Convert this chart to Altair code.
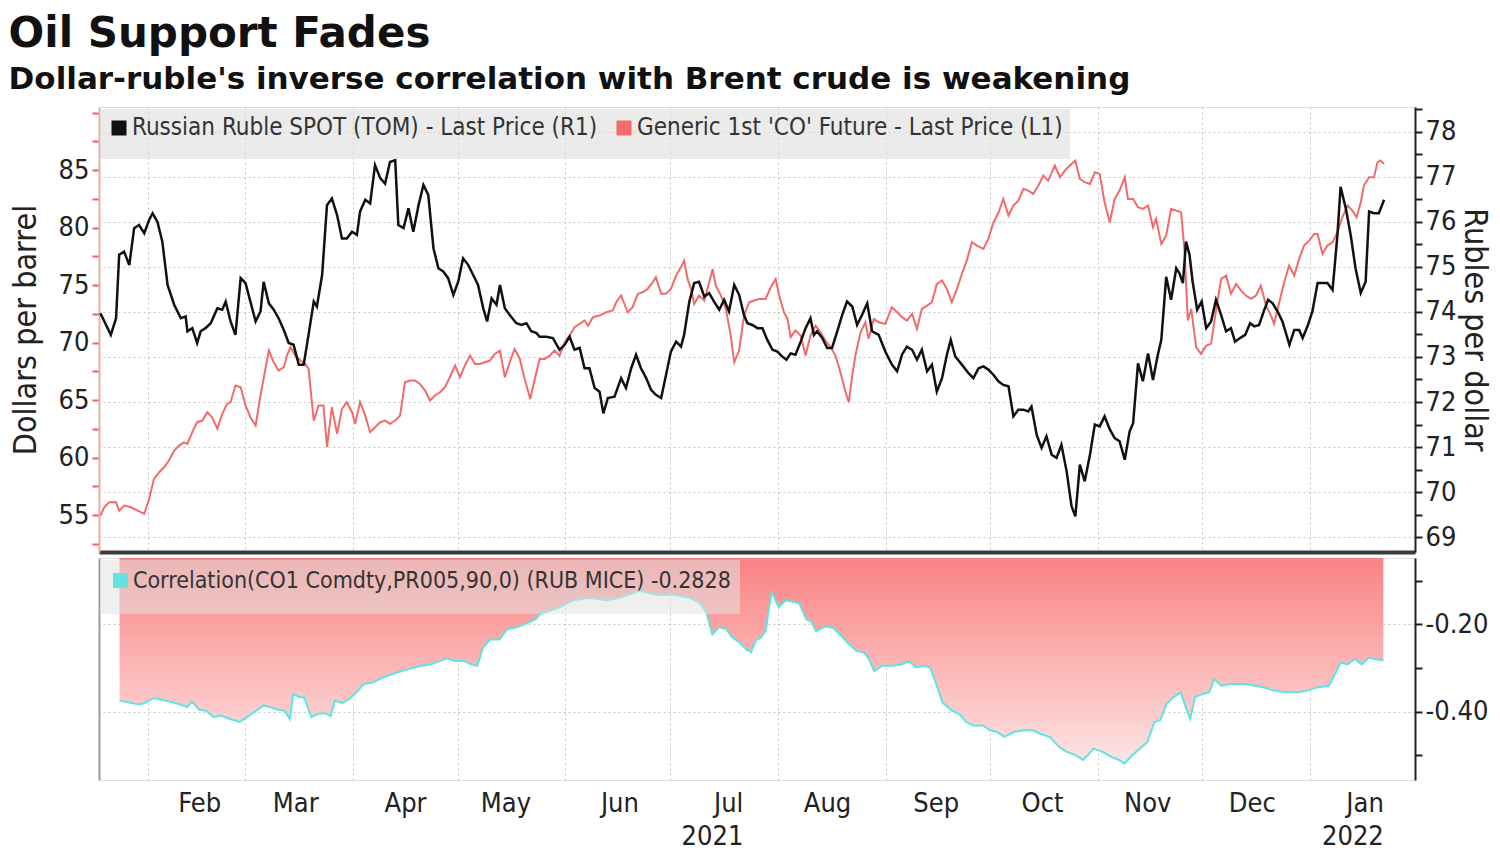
import altair as alt
import pandas as pd

# ---------------- data (x = days since 2021-01-01) -------------
ruble_day = [17.4, 20.4, 21.9, 22.8, 24.2, 25.7, 27.1, 28.5, 30.0, 31.4, 32.4, 33.8, 35.2, 36.7, 38.6, 40.5, 41.9, 42.4, 43.8, 45.2,
             46.2, 47.6, 49.1, 51.0, 52.4, 53.4, 54.8, 56.2, 57.7, 59.1, 60.5, 62.0, 63.4, 64.3, 65.8, 67.2, 68.6, 70.1, 71.5, 72.9,
             74.4, 75.8, 77.2, 78.7, 79.6, 81.1, 82.5, 83.9, 85.4, 86.8, 88.2, 89.7, 91.1, 92.0, 93.5, 94.9, 96.3, 97.8, 99.2, 100.6,
             102.1, 103.0, 104.5, 105.9, 107.3, 108.8, 110.2, 111.6, 113.1, 114.5, 115.9, 117.3, 118.8, 120.2, 121.6, 123.1, 124.5, 125.9, 127.4, 128.5,
             129.8, 131.2, 132.2,
             133.6, 135.0, 136.9, 138.4, 139.8, 141.2, 142.7, 143.6, 145.5, 147.4, 149.3, 150.8, 152.2, 153.6, 155.1, 156.5, 157.9, 159.4, 160.8, 161.9,
             163.2, 165.1, 167.0, 168.4, 169.9, 171.3, 172.7, 174.2, 175.6, 177.0, 178.5, 179.9, 181.3, 182.8, 184.2, 185.1, 186.6, 188.0, 189.4, 190.9,
             192.3, 193.7, 195.2, 196.6, 198.0, 199.5, 200.9, 202.3, 203.3, 204.7, 206.2, 207.6, 209.0, 210.5, 211.9, 213.3, 214.5, 215.7, 217.1, 218.6,
             220.0, 221.4, 222.4, 223.3, 224.8, 226.2, 227.6, 229.1, 230.5, 231.9, 233.4, 234.8, 236.2, 237.7, 239.1, 241.0, 242.9, 244.8, 246.3, 247.7,
             249.1, 250.6, 252.0, 253.4, 254.9, 256.3, 257.7, 259.2, 260.6, 261.7, 263.0, 264.9, 266.8, 268.2, 269.7, 271.1, 272.5, 274.0, 275.4,
             276.8, 278.3, 279.7, 281.1, 282.6, 284.0, 284.9, 286.4, 287.8, 289.2, 290.7, 292.1, 293.5, 295.0, 296.4, 297.5, 298.8, 300.2, 301.7, 303.1,
             304.5, 305.9, 307.4, 308.8, 310.2, 311.7, 313.1, 314.1, 315.5, 316.9, 318.4, 319.8, 321.2, 322.2, 323.6, 325.0, 326.5, 327.4, 328.4, 329.3,
             330.3, 331.2, 332.5, 333.8, 335.1, 336.5, 337.9, 339.4, 340.8, 342.2, 343.4, 344.8, 346.3, 347.7, 348.9, 350.3, 351.8, 352.9, 354.2, 355.6,
             357.0, 359.0, 360.4, 361.8, 362.8, 364.2, 365.6, 367.1, 368.5, 369.9, 371.4, 372.8, 373.7, 375.2, 376.6, 378.0, 379.5, 380.9, 381.9, 383.3,
             384.7, 386.2]
ruble_val = [73.97, 73.49, 73.86, 75.27, 75.34, 75.04, 75.86, 75.93, 75.75, 76.04, 76.19, 76.00, 75.56, 74.60, 74.16, 73.86, 73.90, 73.57, 73.64, 73.31,
             73.57, 73.64, 73.75, 74.08, 74.05, 74.23, 73.79, 73.49, 74.75, 74.64, 74.23, 73.79, 74.01, 74.67, 74.19, 74.05, 73.86, 73.60, 73.31, 73.27,
             72.83, 72.83, 73.49, 74.23, 74.12, 74.82, 76.37, 76.52, 76.15, 75.63, 75.63, 75.78, 75.71, 76.23, 76.49, 76.41, 77.26, 76.97, 76.85, 77.33,
             77.37, 75.93, 75.86, 76.30, 75.78, 76.37, 76.82, 76.60, 75.41, 74.97, 74.90, 74.75, 74.38, 74.67, 75.19, 75.04, 74.82, 74.60, 74.08, 73.79,
             74.30, 74.16, 74.60,
             74.08, 73.93, 73.75, 73.71, 73.75, 73.57, 73.53, 73.45, 73.45, 73.42, 73.16, 73.27, 73.45, 73.16, 73.20, 72.75, 72.75, 72.31, 72.23, 71.75,
             72.09, 72.12, 72.53, 72.31, 72.75, 73.05, 72.75, 72.53, 72.27, 72.16, 72.09, 72.60, 73.12, 73.34, 73.23, 73.49, 74.23, 74.64, 74.67, 74.34,
             74.42, 74.23, 74.05, 74.27, 74.01, 74.60, 74.38, 73.93, 73.75, 73.71, 73.64, 73.64, 73.38, 73.16, 73.12, 73.01, 72.94, 73.08, 73.05, 73.34,
             73.64, 73.86, 73.49, 73.57, 73.42, 73.20, 73.20, 73.57, 73.93, 74.23, 74.12, 73.71, 73.93, 74.19, 73.57, 73.49, 73.12, 72.83, 72.68, 73.05,
             73.23, 73.16, 72.94, 73.16, 72.68, 72.83, 72.23, 72.53, 73.05, 73.38, 73.01, 72.83, 72.64, 72.53, 72.75, 72.79, 72.72, 72.60, 72.46,
             72.38, 72.35, 71.68, 71.83, 71.83, 71.79, 71.90, 71.27, 70.98, 71.24, 70.83, 70.76, 71.05, 70.46, 69.69, 69.46, 70.61, 70.24, 70.83, 71.50,
             71.46, 71.68, 71.39, 71.20, 71.13, 70.72, 71.35, 71.53, 72.86, 72.46, 73.08, 72.49, 73.05, 73.38, 74.78, 74.27, 74.97, 74.86, 74.64, 75.56,
             75.27, 74.67, 74.05, 74.23, 73.64, 73.79, 74.27, 73.93, 73.57, 73.64, 73.34, 73.42, 73.49, 73.75, 73.68, 73.71, 74.05, 74.27, 74.19, 74.01,
             73.79, 73.27, 73.60, 73.60, 73.42, 73.68, 74.01, 74.64, 74.64, 74.64, 74.49, 75.71, 76.78, 76.30, 75.71, 74.97, 74.42, 74.67, 76.23, 76.19,
             76.19, 76.49]

oil_day = [17.4, 18.5, 19.9, 21.9, 22.8, 24.2, 26.2, 28.1, 30.0, 31.4, 32.8, 34.3, 35.7, 37.1, 38.6, 40.0, 41.4, 42.4, 43.8, 45.2,
           46.7, 48.1, 49.5, 51.0, 52.4, 53.8, 54.8, 56.2, 57.7, 59.1, 60.5, 62.0, 63.4, 64.8, 65.8, 67.2, 68.6, 70.1, 71.0, 72.0,
           73.4, 74.9, 76.3, 77.2, 78.7, 80.1, 81.5, 82.5, 83.9, 85.4, 86.8, 88.2, 89.7, 90.6, 92.0, 93.5, 94.9, 96.3, 97.8, 99.2,
           100.6, 102.1, 103.5, 104.9, 106.4, 107.8, 109.2, 110.7, 112.1, 113.5, 115.0, 116.4, 117.8, 119.3, 120.7, 122.1, 123.6, 125.0, 126.4, 127.9,
           129.3, 130.7, 132.2,
           133.6, 135.0, 136.4, 137.9, 139.3, 140.9, 142.2, 143.6, 145.0, 146.5, 147.9, 149.3, 150.8, 152.2, 153.6, 155.1, 156.5, 157.5, 158.9, 160.8,
           162.7, 164.6, 165.6, 167.0, 168.9, 170.3, 171.8, 173.2, 174.6, 176.1, 177.0, 178.5, 179.9, 181.3, 182.8, 184.2, 185.1, 186.1, 187.1, 188.0,
           189.4, 190.9, 192.3, 193.3, 194.2, 195.7, 197.1, 198.5, 199.5, 200.9, 202.3, 203.8, 205.2, 206.6, 208.5, 210.0, 211.4, 212.4, 213.8, 214.8,
           215.7, 217.1, 218.6, 220.0, 221.4, 222.9, 224.3, 225.7, 227.2, 228.6, 230.0, 231.5, 232.4, 233.4, 234.3, 235.8, 237.2, 238.1, 239.6, 241.0,
           242.9, 244.8, 246.3, 247.7, 249.1, 250.6, 252.0, 253.4, 254.9, 256.3, 257.7, 259.2, 260.6, 262.0, 263.5, 264.9, 266.3, 267.8, 269.2, 271.1,
           272.5, 274.0, 275.4,
           276.8, 278.3, 279.7, 281.1, 282.6, 284.0, 285.4, 286.9, 288.3, 289.7, 291.6, 293.1, 294.5, 295.9, 297.5, 298.8, 300.2, 301.7, 303.1, 304.5,
           305.9, 307.4, 308.8, 310.2, 311.7, 312.6, 314.1, 315.5, 316.9, 318.4, 319.8, 320.7, 322.2, 323.6, 325.0, 326.5, 327.9, 328.9, 329.8, 330.8,
           332.2, 333.6, 335.1, 336.5, 337.9, 339.4, 340.8, 342.2, 343.7, 345.1, 346.5, 348.0, 349.4, 350.8, 352.3, 353.7, 354.6, 356.1, 357.5, 358.9,
           360.4, 361.8, 363.2, 364.7, 366.1, 367.1, 368.5, 369.9, 371.4, 372.8, 374.2, 375.7, 377.1, 378.3, 379.5, 380.4, 381.9, 383.3, 384.3, 385.2,
           386.2]
oil_val = [54.97, 55.69, 56.13, 56.13, 55.40, 55.84, 55.69, 55.40, 55.11, 56.42, 58.16, 58.74, 59.17, 59.75, 60.62, 61.05, 61.34, 61.20, 62.22, 63.09,
           63.23, 63.96, 63.52, 62.51, 63.81, 64.68, 64.83, 66.28, 66.13, 64.54, 63.52, 62.80, 65.41, 67.72, 69.32, 68.30, 67.58, 67.87, 68.88, 69.61,
           68.88, 68.45, 68.16, 67.72, 63.23, 64.54, 64.54, 60.91, 64.39, 62.07, 64.24, 64.83, 63.96, 62.94, 64.83, 63.66, 62.22, 62.65, 63.09, 63.23,
           62.94, 63.23, 63.66, 66.56, 66.71, 66.71, 66.42, 65.84, 64.97, 65.41, 65.69, 66.13, 67.00, 68.01, 67.00, 68.01, 68.88, 68.16, 68.16, 68.30,
           68.45, 69.03, 69.32,
           67.00, 68.30, 69.46, 68.59, 66.85, 65.11, 66.85, 68.59, 68.59, 68.88, 69.32, 68.88, 70.04, 70.62, 71.35, 71.64, 71.93, 71.49, 72.22, 72.36,
           72.65, 72.80, 73.52, 74.10, 72.65, 73.09, 74.25, 74.39, 74.68, 75.26, 75.70, 74.25, 74.25, 74.68, 75.84, 76.57, 77.14, 75.55, 74.68, 73.37,
           74.10, 73.67, 75.26, 76.42, 74.97, 74.10, 72.94, 70.62, 68.30, 69.32, 72.36, 73.52, 73.67, 73.81, 73.81, 74.82, 75.55, 74.10, 72.65, 72.07,
           70.48, 71.06, 70.62, 68.88, 70.62, 71.49, 70.91, 70.19, 69.61, 68.88, 67.43, 65.69, 64.83, 67.14, 68.88, 70.91, 71.78, 70.33, 72.07, 71.78,
           71.64, 73.09, 72.65, 72.22, 71.93, 72.51, 71.20, 72.94, 73.23, 73.52, 75.11, 75.41, 74.68, 73.52, 74.68, 75.98, 77.14, 78.74, 78.45, 78.16,
           79.03, 80.48, 81.30,
           82.51, 81.06, 81.93, 82.36, 83.38, 83.23, 82.94, 83.67, 84.54, 84.10, 85.41, 84.39, 84.97, 85.41, 85.84, 84.25, 83.96, 83.81, 84.83, 84.68,
           82.22, 80.48, 82.51, 83.23, 84.39, 82.51, 82.51, 81.78, 81.64, 81.93, 80.04, 80.77, 78.59, 79.32, 81.64, 81.49, 81.35, 77.87, 71.93, 72.94,
           69.61, 69.03, 69.75, 69.90, 72.80, 75.55, 75.84, 74.25, 75.11, 74.53, 74.10, 73.81, 74.10, 74.97, 73.23, 72.36, 71.64, 73.52, 75.26, 76.71,
           75.84, 77.29, 78.45, 78.88, 79.46, 79.46, 77.72, 78.45, 78.74, 79.61, 80.91, 81.93, 81.49, 80.91, 82.22, 83.67, 84.39, 84.39, 85.69, 85.84,
           85.55]

corr_day = [22.9, 25.2, 28.6, 30.0, 32.8, 35.5, 38.2, 40.3, 42.4, 43.7, 45.8, 47.8, 49.9, 51.9, 54.7, 57.4, 59.5, 61.5, 64.3, 66.3,
            68.4, 70.4, 71.8, 72.8, 74.6, 75.9, 78.0, 80.0, 82.1, 83.5, 84.8, 86.9, 88.9, 91.0, 93.1, 95.8, 98.5, 101.3, 104.0, 106.8,
            109.5, 112.2, 115.0, 117.0, 119.1, 121.8, 123.9, 125.7, 127.3, 129.4, 132.1, 134.2, 136.9, 139.6, 142.4,
            143.6, 149.3, 153.1, 157.9, 162.8, 166.5, 172.3, 177.1, 181.7, 186.6, 189.4, 191.5, 193.2, 195.2, 197.2, 198.9, 200.9, 202.9, 204.3, 205.8,
            207.2, 208.6, 209.5, 210.3, 212.3, 214.3, 217.2,
            218.2, 220.2, 221.6, 223.0, 225.7, 227.8, 229.8, 232.5, 234.6, 236.7, 238.0, 239.7, 242.1, 244.9, 247.6, 249.7, 251.7, 253.8, 255.8, 257.9,
            259.3, 262.0, 264.1, 266.1, 268.2, 270.9, 273.0, 275.0, 277.1, 279.8, 282.6, 285.3, 287.4, 290.1, 292.8, 294.9, 297.6, 299.7, 301.1, 302.7,
            305.2, 307.9, 310.0, 311.6, 313.4, 315.5, 318.2, 320.2, 321.9, 323.7, 325.7, 327.8, 329.2, 330.5, 331.9, 334.0, 336.0, 337.4, 339.4, 342.2,
            346.3, 349.0, 351.8, 354.5, 357.9, 361.4, 364.1, 366.8, 370.3, 371.6, 373.7, 375.7, 377.8, 379.8, 381.9, 383.9, 386.0]
corr_val = [-0.375, -0.379, -0.384, -0.381, -0.369, -0.374, -0.379, -0.384, -0.390, -0.377, -0.396, -0.398, -0.413, -0.409, -0.417, -0.424, -0.413, -0.402, -0.386, -0.390,
            -0.396, -0.398, -0.417, -0.360, -0.367, -0.367, -0.413, -0.405, -0.404, -0.411, -0.375, -0.381, -0.371, -0.356, -0.337, -0.333, -0.322, -0.314, -0.307, -0.301,
            -0.295, -0.292, -0.284, -0.278, -0.284, -0.284, -0.292, -0.295, -0.254, -0.235, -0.235, -0.212, -0.207, -0.199, -0.189,
            -0.177, -0.161, -0.145, -0.139, -0.145, -0.139, -0.123, -0.132, -0.132, -0.139, -0.150, -0.173, -0.223, -0.207, -0.211, -0.230, -0.241, -0.257, -0.264, -0.236,
            -0.230, -0.214, -0.161, -0.127, -0.161, -0.145, -0.150,
            -0.152, -0.189, -0.193, -0.216, -0.205, -0.208, -0.223, -0.246, -0.261, -0.265, -0.277, -0.307, -0.295, -0.295, -0.292, -0.284, -0.299, -0.295, -0.299, -0.345,
            -0.379, -0.398, -0.405, -0.424, -0.432, -0.432, -0.443, -0.447, -0.458, -0.447, -0.443, -0.443, -0.451, -0.458, -0.481, -0.492, -0.500, -0.511, -0.500, -0.485,
            -0.492, -0.504, -0.511, -0.519, -0.504, -0.489, -0.470, -0.424, -0.420, -0.383, -0.367, -0.356, -0.390, -0.417, -0.367, -0.360, -0.356, -0.326, -0.341, -0.337,
            -0.337, -0.341, -0.345, -0.352, -0.356, -0.356, -0.352, -0.345, -0.341, -0.322, -0.288, -0.292, -0.280, -0.292, -0.277, -0.280, -0.283]

month_starts = ["2021-02-01", "2021-03-01", "2021-04-01", "2021-05-01", "2021-06-01", "2021-07-01",
                "2021-08-01", "2021-09-01", "2021-10-01", "2021-11-01", "2021-12-01", "2022-01-01"]
oil_ticks = [52.5, 55, 57.5, 60, 62.5, 65, 67.5, 70, 72.5, 75, 77.5, 80, 82.5, 85, 87.5, 90]
ruble_ticks = [68.5, 69, 69.5, 70, 70.5, 71, 71.5, 72, 72.5, 73, 73.5, 74, 74.5, 75, 75.5, 76, 76.5, 77, 77.5, 78, 78.5]
corr_ticks = [-0.5, -0.4, -0.3, -0.2, -0.1]
corr_top = -0.048
corr_bottom = -0.557

RUB_LABEL = "Russian Ruble SPOT (TOM) - Last Price (R1)"
OIL_LABEL = "Generic 1st 'CO' Future - Last Price (L1)"
CORR_LABEL = "Correlation(CO1 Comdty,PR005,90,0) (RUB MICE) -0.2828"

# ---------------- frames ----------------
BASE = pd.Timestamp("2021-01-01")


def frame(days, vals, name):
    return pd.DataFrame({"date": BASE + pd.to_timedelta(days, unit="D"), "value": vals, "series": name})


ruble_df = frame(ruble_day, ruble_val, RUB_LABEL)
oil_df = frame(oil_day, oil_val, OIL_LABEL)
corr_df = frame(corr_day, corr_val, CORR_LABEL)


def dt(s):
    t = pd.Timestamp(s)
    return alt.DateTime(year=t.year, month=t.month, date=t.day, hours=t.hour)


month_vals = [dt(s) for s in month_starts]

NARROW = "DejaVu Sans Condensed, DejaVu Sans, sans-serif"
TITLE_FONT = "DejaVu Sans, sans-serif"
INK = "#222222"
GRID = "#c4c4c4"
W = 1316

xscale = alt.Scale(domain=[dt("2021-01-18 00:00"), dt("2022-01-31 02:00")])

# ---------------- top panel ----------------
x_top = alt.X("date:T", scale=xscale,
              axis=alt.Axis(values=month_vals, labels=False, ticks=False, domain=True,
                            domainColor="#3a3a3a", domainWidth=4, grid=True, gridColor=GRID,
                            gridDash=[2, 3], title=None))

top_color = alt.Color(
    "series:N",
    scale=alt.Scale(domain=[RUB_LABEL, OIL_LABEL], range=["#111111", "#f26b6b"]),
    legend=alt.Legend(title=None, orient="none", legendX=1, legendY=2, direction="horizontal",
                      symbolType="square", symbolSize=16, symbolStrokeWidth=11,
                      labelFont=NARROW, labelFontSize=24, labelColor="#333333", labelOffset=1,
                      labelLimit=0, columnPadding=2, padding=7,
                      fillColor="rgba(222,222,222,0.6)", cornerRadius=0),
)

oil_line = alt.Chart(oil_df).mark_line(interpolate="linear").encode(
    x=x_top,
    y=alt.Y("value:Q", scale=alt.Scale(domain=[51.8, 90.5], nice=False, zero=False),
            axis=alt.Axis(orient="left", values=oil_ticks,
                          labelExpr="datum.value % 5 === 0 && datum.value <= 85 ? format(datum.value, '.0f') : ''",
                          grid=False, domainColor="#f3a6a6", domainWidth=2, tickColor="#ee6262",
                          tickSize=7, tickWidth=2, labelFont=NARROW, labelFontSize=27, labelColor=INK,
                          labelPadding=3, title="Dollars per barrel", titleFont=NARROW, titleFontSize=32,
                          titleFontWeight="normal", titleColor=INK, titlePadding=16)),
    color=top_color,
    strokeWidth=alt.value(2),
)

rub_line = alt.Chart(ruble_df).mark_line(interpolate="linear").encode(
    x=x_top,
    y=alt.Y("value:Q", scale=alt.Scale(domain=[68.67, 78.55], nice=False, zero=False),
            axis=alt.Axis(orient="right", values=ruble_ticks,
                          labelExpr="datum.value % 1 === 0 ? format(datum.value, '.0f') : ''",
                          grid=True, gridColor=GRID, gridDash=[2, 3],
                          gridOpacity={"condition": {"test": "datum.value % 1 !== 0", "value": 0}, "value": 1},
                          domainColor=INK, domainWidth=2, tickColor=INK, tickSize=7, tickWidth=2,
                          labelFont=NARROW, labelFontSize=27, labelColor=INK, labelPadding=3,
                          title="Rubles per dollar", titleFont=NARROW, titleFontSize=32,
                          titleFontWeight="normal", titleColor=INK, titlePadding=2)),
    color=top_color,
    strokeWidth=alt.value(2.5),
)

top = alt.layer(oil_line, rub_line).resolve_scale(y="independent").properties(width=W, height=445)

# ---------------- bottom panel ----------------
x_bot = alt.X("date:T", scale=xscale,
              axis=alt.Axis(values=month_vals,
                            labelExpr="month(datum.value) == 6 ? ['Jul', '2021'] : (month(datum.value) == 0 ? ['Jan', '2022'] : timeFormat(datum.value, '%b'))",
                            labelAlign="right", labelOffset=73, labelFlush=False, labelOverlap=False,
                            labelFont=NARROW, labelFontSize=27, labelColor=INK, labelPadding=10,
                            labelLineHeight=33, ticks=False, domain=False, grid=True, gridColor=GRID,
                            gridDash=[2, 3], title=None))

corr_scale = alt.Scale(domain=[corr_bottom, corr_top], nice=False, zero=False)
corr_test = "abs(datum.value + 0.2) < 0.001 || abs(datum.value + 0.4) < 0.001"

area = alt.Chart(corr_df).mark_area(
    fill=alt.Gradient(gradient="linear", x1=0, x2=0, y1=0, y2=1,
                      stops=[alt.GradientStop(color="#f98282", offset=0),
                             alt.GradientStop(color="#fde4e4", offset=1)]),
    interpolate="linear",
    clip=True,
).encode(
    x=x_bot,
    y=alt.Y("value:Q", scale=corr_scale,
            axis=alt.Axis(orient="left", labels=False, ticks=False, grid=False,
                          domainColor="#9a9a9a", domainWidth=2, title=None)),
    y2=alt.datum(corr_top),
)

corr_line = alt.Chart(corr_df).mark_line(interpolate="linear").encode(
    x=x_bot,
    y=alt.Y("value:Q", scale=corr_scale,
            axis=alt.Axis(orient="right", values=corr_ticks,
                          labelExpr="(" + corr_test + ") ? replace(format(datum.value, '.2f'), '\u2212', '-') : ''",
                          grid=True, gridColor=GRID, gridDash=[2, 3],
                          gridOpacity={"condition": {"test": corr_test, "value": 1}, "value": 0},
                          domainColor=INK, domainWidth=2, tickColor=INK, tickSize=7, tickWidth=2,
                          labelFont=NARROW, labelFontSize=27, labelColor=INK, labelPadding=3,
                          title=None)),
    color=alt.Color("series:N", scale=alt.Scale(domain=[CORR_LABEL], range=["#5fe3e3"]),
                    legend=alt.Legend(title=None, orient="none", legendX=1, legendY=2,
                                      symbolType="square", symbolSize=16, symbolStrokeWidth=11,
                                      labelFont=NARROW, labelFontSize=23, labelColor="#333333",
                                      labelOffset=1, labelLimit=0, padding=9,
                                      fillColor="rgba(225,225,225,0.55)", cornerRadius=0)),
    strokeWidth=alt.value(2),
)

bottom = alt.layer(area, corr_line).resolve_axis(y="independent").properties(width=W, height=222)

chart = alt.vconcat(top, bottom, spacing=4).resolve_scale(color="independent").resolve_legend(
    color="independent"
).properties(
    title=alt.TitleParams(
        text="Oil Support Fades",
        subtitle="Dollar-ruble's inverse correlation with Brent crude is weakening",
        anchor="start", frame="bounds", font=TITLE_FONT, fontSize=42, fontWeight="bold", color="#111111",
        subtitleFont=TITLE_FONT, subtitleFontSize=31, subtitleFontWeight="bold", subtitleColor="#111111",
        subtitlePadding=9, offset=11,
    ),
    padding={"left": 0, "top": 4, "right": 0, "bottom": 0},
).configure_view(stroke=None).configure(background="white")

chart.save("out.html", embed_options={"renderer": "svg", "actions": False})
